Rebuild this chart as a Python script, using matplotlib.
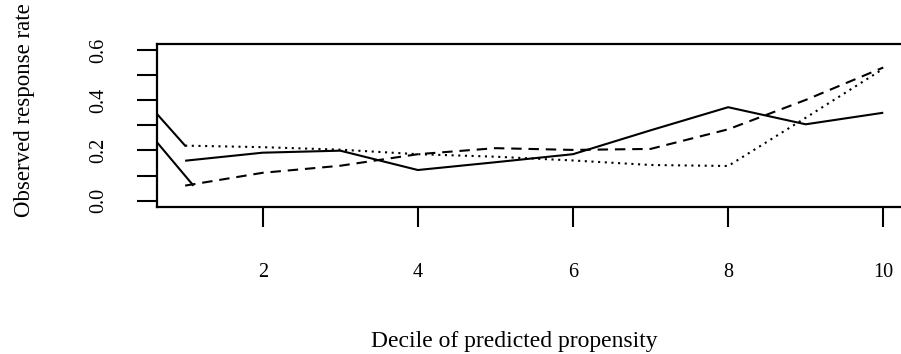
import matplotlib
matplotlib.use("Agg")
import matplotlib.pyplot as plt
from matplotlib.ticker import FixedLocator, NullFormatter

# Observed response rate by decile of predicted propensity, three models
deciles = [1, 2, 3, 4, 5, 6, 7, 8, 9, 10]
model_solid = [0.159, 0.191, 0.199, 0.122, 0.153, 0.185, 0.280, 0.372, 0.304, 0.350]
model_dashed = [0.060, 0.111, 0.139, 0.185, 0.209, 0.202, 0.206, 0.284, 0.401, 0.530]
model_dotted = [0.219, 0.213, 0.203, 0.185, 0.175, 0.160, 0.142, 0.138, 0.330, 0.525]

# short solid lead-in segments entering from the left edge
lead_upper_x = [0.60, 1.00]
lead_upper_y = [0.358, 0.219]
lead_lower_x = [0.60, 1.10]
lead_lower_y = [0.246, 0.0625]

x_ticks = [2, 4, 6, 8, 10]
y_ticks = [0.0, 0.1, 0.2, 0.3, 0.4, 0.5, 0.6]
y_tick_labels = ["0.0", "0.2", "0.4", "0.6"]
y_label_ticks = [0.0, 0.2, 0.4, 0.6]

plt.rcParams["font.family"] = ["Liberation Serif", "DejaVu Serif"]

W, H = 901, 354
fig = plt.figure(figsize=(W / 100, H / 100), dpi=100)

left_px, right_px = 157.2, 911.2
top_px, bottom_px = 43.9, 206.7
ax = fig.add_axes([left_px / W, 1 - bottom_px / H,
                   (right_px - left_px) / W, (bottom_px - top_px) / H])

ax.set_xlim(0.64, 10.36)
ax.set_ylim(-0.024, 0.624)

lw = 1.5
ax.plot(deciles, model_solid, color="black", lw=lw, solid_capstyle="butt")
ax.plot(deciles, model_dashed, color="black", lw=lw, dashes=(5.0, 3.3),
        dash_capstyle="butt")
ax.plot(deciles, model_dotted, color="black", lw=lw, dashes=(1.0, 2.2),
        dash_capstyle="butt")
ax.plot(lead_upper_x, lead_upper_y, color="black", lw=lw)
ax.plot(lead_lower_x, lead_lower_y, color="black", lw=lw)

for s in ax.spines.values():
    s.set_linewidth(1.6)
    s.set_color("black")

ax.xaxis.set_major_locator(FixedLocator(x_ticks))
ax.set_xticklabels([str(t) for t in x_ticks])
ax.yaxis.set_major_locator(FixedLocator(y_ticks))
ax.yaxis.set_major_formatter(NullFormatter())

ax.tick_params(axis="both", direction="out", length=14.4, width=1.5,
               color="black", labelsize=14.5)
ax.tick_params(axis="x", pad=26)

# y tick labels, rotated as in base graphics
for v, lab in zip(y_label_ticks, y_tick_labels):
    ax.text(-0.077, v, lab, transform=ax.get_yaxis_transform(),
            rotation=90, ha="center", va="center", fontsize=14.5)

fig.text(514 / W, 1 - 341 / H, "Decile of predicted propensity",
         ha="center", va="center", fontsize=17)
fig.text(25 / W, 1 - 110 / H, "Observed response rate",
         ha="center", va="center", rotation=90, fontsize=16.5)

fig.savefig("out.png", dpi=100)
